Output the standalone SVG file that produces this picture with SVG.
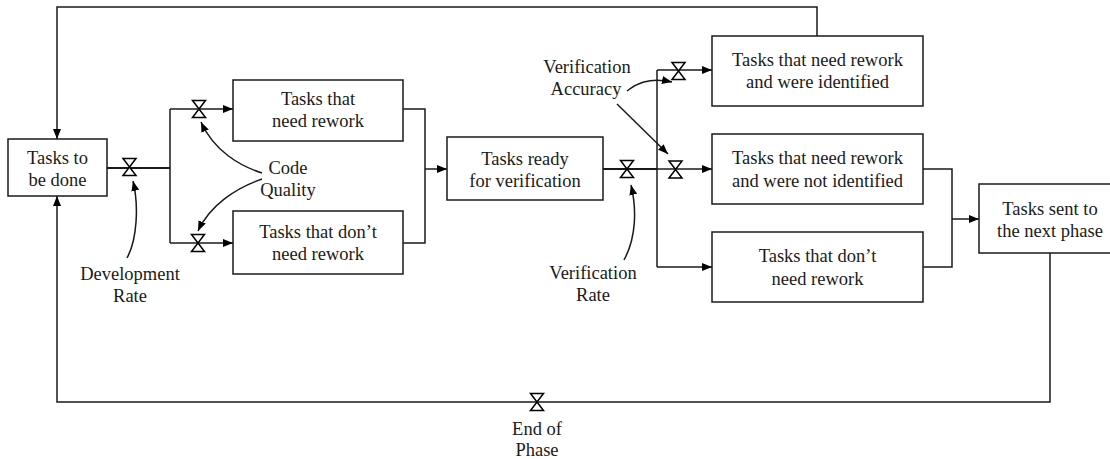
<svg xmlns="http://www.w3.org/2000/svg" width="1110" height="459" viewBox="0 0 1110 459">
<style>
.box{fill:#fff;stroke:#1a1a1a;stroke-width:1.5}
.t{font-family:"Liberation Serif","Times New Roman",serif;font-size:18.5px;fill:#1a1a1a;text-anchor:middle}
.ln{fill:none;stroke:#1a1a1a;stroke-width:1.5}
.thick{stroke-width:2.2}
.ar{marker-end:url(#ah)}
.valve{fill:#fff;stroke:#000;stroke-width:1.5;stroke-linejoin:miter}
</style>
<defs>
<marker id="ah" markerUnits="userSpaceOnUse" markerWidth="10" markerHeight="8" refX="10" refY="4" orient="auto">
<path d="M0,0 L10,4 L0,8 z" fill="#000"/>
</marker>
<path id="hg" d="M-6.5,-8.5 H6.5 L-6.5,8.5 H6.5 Z"/>
</defs>
<rect width="1110" height="459" fill="#fff"/>

<g id="connectors">
<!-- development flow -->
<path class="ln thick" d="M107,168 H170"/>
<path class="ln" d="M170,109 V243"/>
<path class="ln ar" d="M170,109 H233"/>
<path class="ln ar" d="M170,243 H233"/>
<!-- merge to ready -->
<path class="ln" d="M403,109 H425 V243 H403"/>
<path class="ln ar" d="M425,169 H447"/>
<!-- verification flow -->
<path class="ln thick" d="M603,169 H657"/>
<path class="ln" d="M657,70 V267"/>
<path class="ln ar" d="M657,70 H712"/>
<path class="ln ar" d="M657,169 H712"/>
<path class="ln ar" d="M657,267 H712"/>
<!-- merge to next phase -->
<path class="ln" d="M923,169 H952 V267 H923"/>
<path class="ln ar" d="M952,219 H979"/>
<!-- rework loop top -->
<path class="ln ar" d="M817,36 V7 H57 V139"/>
<!-- end of phase loop bottom -->
<path class="ln ar" d="M1050,253 V402 H57 V196"/>
<!-- influence arrows -->
<path class="ln ar" d="M127,258 C137,240 139,206 133,181"/>
<path class="ln ar" d="M262,173 C240,166 214,151 201,122"/>
<path class="ln ar" d="M262,179 C236,188 210,205 198,231"/>
<path class="ln ar" d="M624,260 C636,238 637,210 631,185"/>
<path class="ln ar" d="M627,91 C636,84 648,77 672,82"/>
<path class="ln ar" d="M617,104 L668,154"/>
</g>

<g id="valve-development"><use href="#hg" class="valve" x="129.5" y="167"/></g>
<g id="valve-code-rework"><use href="#hg" class="valve" x="199" y="109"/></g>
<g id="valve-code-norework"><use href="#hg" class="valve" x="198" y="243"/></g>
<g id="valve-verification"><use href="#hg" class="valve" x="627" y="169"/></g>
<g id="valve-accuracy-identified"><use href="#hg" class="valve" x="678.5" y="71"/></g>
<g id="valve-accuracy-notidentified"><use href="#hg" class="valve" x="675.5" y="169.5"/></g>
<g id="valve-end"><use href="#hg" class="valve" x="537" y="402"/></g>

<g id="n-todo">
<rect class="box" x="8" y="139" width="99" height="57"/>
<text class="t" x="57.5" y="164">Tasks to</text>
<text class="t" x="57.5" y="186">be done</text>
</g>
<g id="n-rework">
<rect class="box" x="233" y="80" width="170" height="61"/>
<text class="t" x="318" y="105">Tasks that</text>
<text class="t" x="318" y="127">need rework</text>
</g>
<g id="n-norework">
<rect class="box" x="233" y="211" width="170" height="63"/>
<text class="t" x="318" y="238">Tasks that don’t</text>
<text class="t" x="318" y="260">need rework</text>
</g>
<g id="n-ready">
<rect class="box" x="447" y="137" width="156" height="63"/>
<text class="t" x="525" y="165">Tasks ready</text>
<text class="t" x="525" y="187">for verification</text>
</g>
<g id="n-identified">
<rect class="box" x="712" y="36" width="211" height="70"/>
<text class="t" x="817.5" y="66">Tasks that need rework</text>
<text class="t" x="817.5" y="88">and were identified</text>
</g>
<g id="n-notidentified">
<rect class="box" x="712" y="134" width="211" height="70"/>
<text class="t" x="817.5" y="164">Tasks that need rework</text>
<text class="t" x="817.5" y="187">and were not identified</text>
</g>
<g id="n-verified-norework">
<rect class="box" x="712" y="232" width="211" height="70"/>
<text class="t" x="817.5" y="262">Tasks that don’t</text>
<text class="t" x="817.5" y="285">need rework</text>
</g>
<g id="n-next">
<rect class="box" x="979" y="184" width="142" height="69"/>
<text class="t" x="1050" y="215">Tasks sent to</text>
<text class="t" x="1050" y="237">the next phase</text>
</g>

<g id="l-devrate">
<text class="t" x="130" y="280">Development</text>
<text class="t" x="130" y="302">Rate</text>
</g>
<g id="l-codequality">
<text class="t" x="288" y="174">Code</text>
<text class="t" x="288" y="196">Quality</text>
</g>
<g id="l-verrate">
<text class="t" x="593" y="279">Verification</text>
<text class="t" x="593" y="301">Rate</text>
</g>
<g id="l-accuracy">
<text class="t" x="587" y="73">Verification</text>
<text class="t" x="586" y="95">Accuracy</text>
</g>
<g id="l-end">
<text class="t" x="537" y="435">End of</text>
<text class="t" x="537" y="456">Phase</text>
</g>
</svg>
